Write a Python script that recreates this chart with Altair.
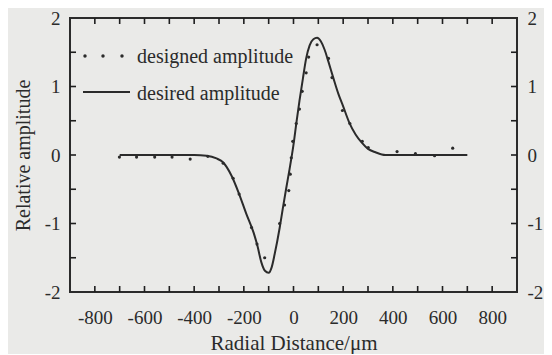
import altair as alt
import pandas as pd

# desired amplitude (solid curve)
line_r = [-700, -400, -350, -310, -283, -250, -220, -190, -160, -145, -130, -115, -100, -88, -76,
          -56, -43, -30, -16, 0, 12, 24, 38, 51, 65, 80, 95, 110, 125, 140, 160, 180, 200, 225,
          250, 275, 300, 330, 370, 400, 700]
line_a = [0, 0, -0.01, -0.05, -0.11, -0.30, -0.56, -0.86, -1.14, -1.33, -1.56, -1.69, -1.72, -1.64, -1.45,
          -1.07, -0.78, -0.50, -0.21, 0.15, 0.48, 0.79, 1.12, 1.41, 1.60, 1.69, 1.71, 1.66, 1.54, 1.37,
          1.13, 0.90, 0.71, 0.47, 0.30, 0.18, 0.09, 0.04, 0.0, 0.0, 0.0]

# designed amplitude (dots)
dot_r = [-701, -632, -559, -489, -416, -345, -283, -243, -219, -169, -147, -116, -56, -36, -19, -13,
         -9, -3, 11, 24, 35, 51, 61, 95, 141, 155, 197, 227, 277, 301, 417, 491, 568, 641]
dot_a = [-0.03, -0.03, -0.03, -0.03, -0.06, -0.02, -0.12, -0.34, -0.57, -1.06, -1.30, -1.50, -1.00,
         -0.73, -0.52, -0.28, -0.04, 0.20, 0.46, 0.67, 0.93, 1.20, 1.43, 1.61, 1.41, 1.13, 0.65, 0.46,
         0.20, 0.11, 0.05, 0.02, -0.01, 0.10]

x_labels = [-800, -600, -400, -200, 0, 200, 400, 600, 800]
x_ticks = [-800, -700, -600, -500, -400, -300, -200, -100, 0, 100, 200, 300, 400, 500, 600, 700, 800]
y_labels = [-2, -1, 0, 1, 2]
y_ticks = [-1.5, -1, -0.5, 0, 0.5, 1, 1.5]
legend_labels = ["designed amplitude", "desired amplitude"]

line_df = pd.DataFrame({"r": line_r, "a": line_a})
dot_df = pd.DataFrame({"r": dot_r, "a": dot_a})
xt_df = pd.DataFrame({"r": x_ticks})
yt_df = pd.DataFrame({"a": y_ticks})

FONT = "Liberation Serif"
INK = "#2b2b2b"
W, H = 447, 274
TK = 6  # inward tick length (part of it sits under the frame line)

xs = alt.Scale(domain=[-900, 900], nice=False, zero=False)
ys = alt.Scale(domain=[-2, 2], nice=False, zero=False)
minus_expr = "(datum.value < 0 ? '-' : '') + abs(datum.value)"


def label_axis(orient, values, pad, title=None, tpad=0, tsize=20):
    kw = dict(orient=orient, values=values, ticks=False, domain=False, grid=False,
              labelFont=FONT, labelFontSize=19, labelColor=INK, labelPadding=pad,
              labelExpr=minus_expr, labelFlush=False)
    if title is not None:
        kw.update(title=title, titleFont=FONT, titleFontSize=tsize, titleFontWeight="normal",
                  titleColor=INK, titlePadding=tpad)
    return alt.Axis(**kw)


line = alt.Chart(line_df).mark_line(color=INK, strokeWidth=2, interpolate="monotone").encode(
    x=alt.X("r:Q", scale=xs, axis=label_axis("bottom", x_labels, 16, "Radial Distance/μm", 5, 21)),
    y=alt.Y("a:Q", scale=ys, axis=label_axis("left", y_labels, 10, "Relative amplitude", 11, 20)),
)

dots = alt.Chart(dot_df).mark_circle(color=INK, size=10, opacity=1).encode(
    x=alt.X("r:Q", scale=xs, axis=None),
    y=alt.Y("a:Q", scale=ys, axis=None),
)

ghost = alt.Chart(dot_df).mark_circle(opacity=0).encode(
    x=alt.X("r:Q", scale=xs, axis=None),
    y=alt.Y("a:Q", scale=ys, axis=label_axis("right", y_labels, 10), title=None),
)

# inward ticks on all four sides
tick_kw = dict(color="#1e1e1e", thickness=1.6, opacity=1)
ticks_bottom = alt.Chart(xt_df).mark_tick(orient="vertical", **tick_kw).encode(
    x=alt.X("r:Q", scale=xs, axis=None), y=alt.value(H - TK / 2), size=alt.value(TK))
ticks_top = alt.Chart(xt_df).mark_tick(orient="vertical", **tick_kw).encode(
    x=alt.X("r:Q", scale=xs, axis=None), y=alt.value(TK / 2), size=alt.value(TK))
ticks_left = alt.Chart(yt_df).mark_tick(orient="horizontal", **tick_kw).encode(
    y=alt.Y("a:Q", scale=ys, axis=None), x=alt.value(TK / 2), size=alt.value(TK))
ticks_right = alt.Chart(yt_df).mark_tick(orient="horizontal", **tick_kw).encode(
    y=alt.Y("a:Q", scale=ys, axis=None), x=alt.value(W - TK / 2), size=alt.value(TK))

# legend (drawn inside the plot, top-left)
leg_layers = []
for px in (15, 33, 52):
    leg_layers.append(
        alt.Chart(alt.Data(values=[{"label": legend_labels[0]}])).mark_circle(color=INK, size=12, opacity=1)
        .encode(x=alt.value(px), y=alt.value(38))
    )
leg_layers.append(
    alt.Chart(alt.Data(values=[{"label": legend_labels[0]}]))
    .mark_text(align="left", baseline="alphabetic", font=FONT, fontSize=20, color=INK)
    .encode(x=alt.value(67), y=alt.value(45), text=alt.Text("label:N"))
)
leg_layers.append(
    alt.Chart(alt.Data(values=[{"label": legend_labels[1]}])).mark_rule(color=INK, strokeWidth=2)
    .encode(x=alt.value(13), x2=alt.value(60), y=alt.value(74))
)
leg_layers.append(
    alt.Chart(alt.Data(values=[{"label": legend_labels[1]}]))
    .mark_text(align="left", baseline="alphabetic", font=FONT, fontSize=20, color=INK)
    .encode(x=alt.value(67), y=alt.value(82), text=alt.Text("label:N"))
)

chart = (
    alt.layer(line, dots, ghost, ticks_bottom, ticks_top, ticks_left, ticks_right, *leg_layers)
    .resolve_axis(x="independent", y="independent")
    .properties(
        width=W, height=H,
        padding={"left": 62, "top": 10, "right": 27, "bottom": 62},
        autosize=alt.AutoSizeParams(type="none"),
    )
    .configure(background="#eaeae8")
    .configure_view(stroke=INK, strokeWidth=2)
)

chart.save("out.html", embed_options={"renderer": "svg", "actions": False})
